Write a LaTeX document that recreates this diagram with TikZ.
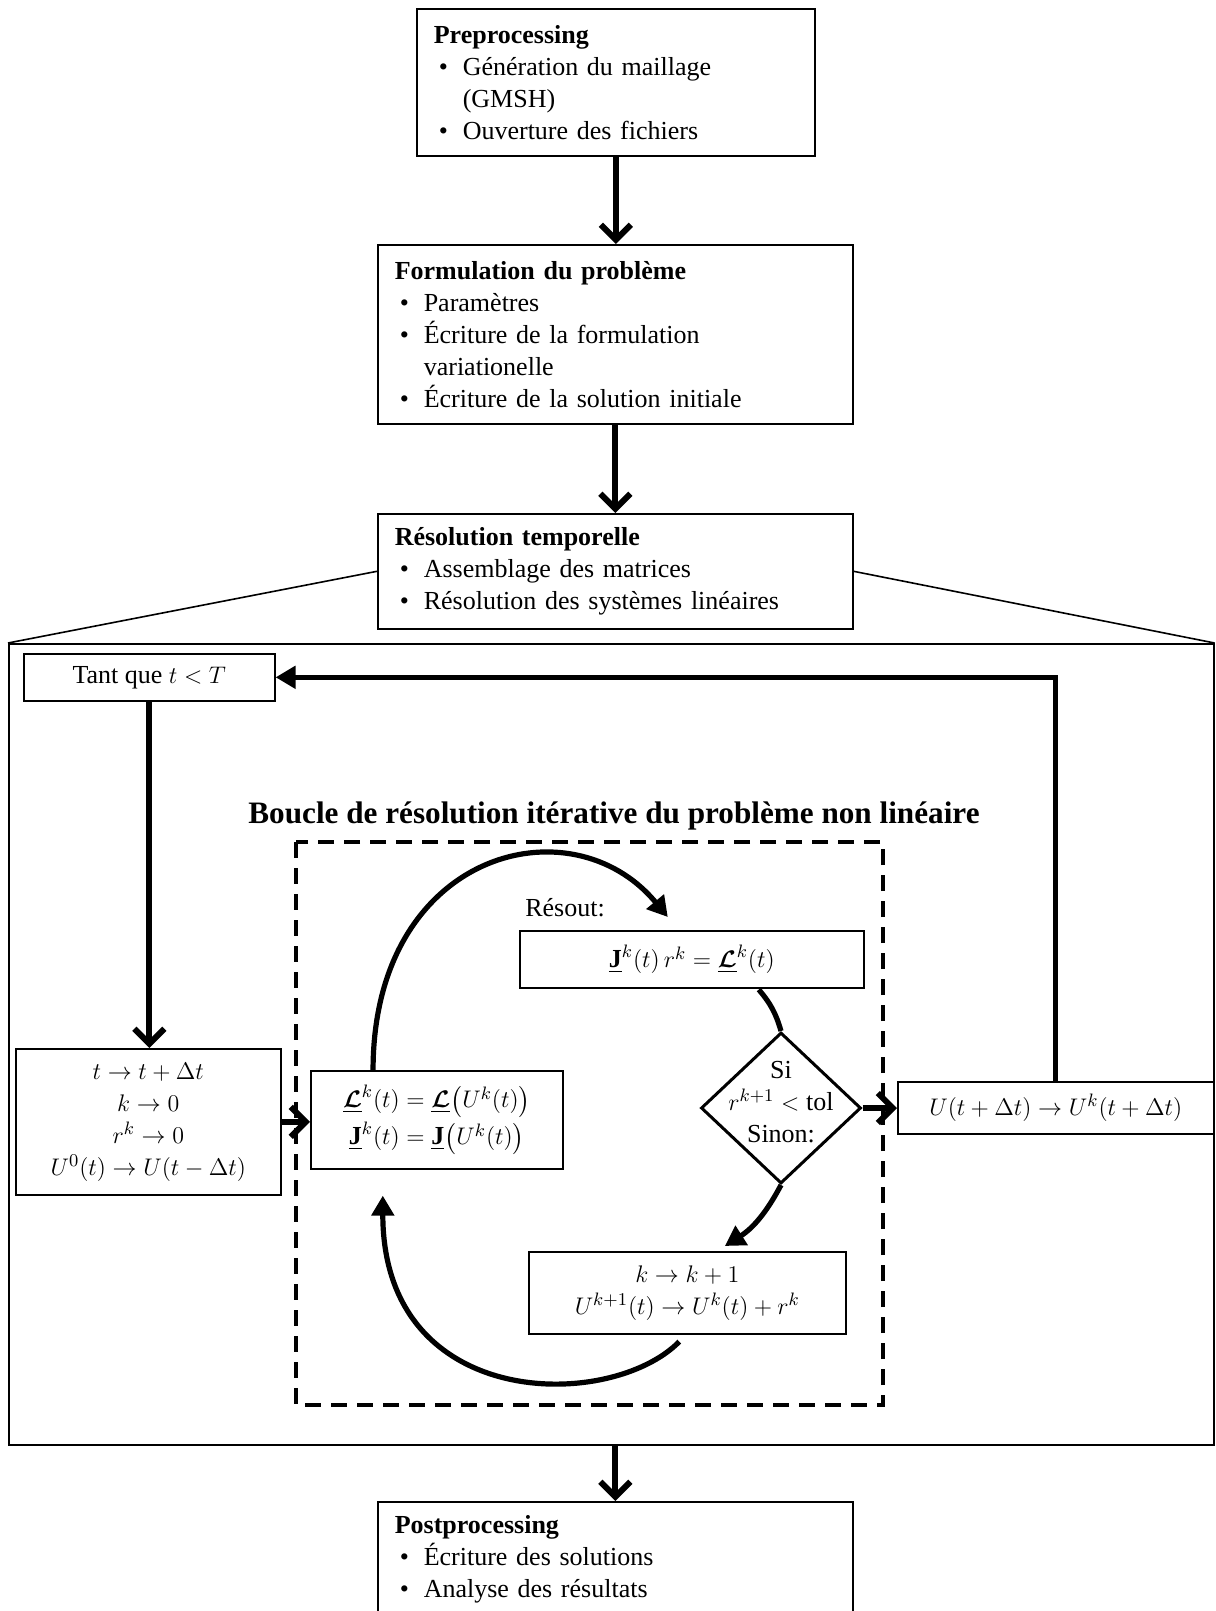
\documentclass[tikz,border=0pt]{standalone}
\usepackage{amsmath, amssymb}
\usepackage{fontspec}
\setmainfont{Liberation Serif}
\usepackage{tikz}
\usetikzlibrary{arrows.meta, shapes.geometric, calc}

\newcommand{\puce}{\hspace*{2.5pt}\makebox[12pt][l]{\textbullet}}
\newcommand{\retrait}{\hspace*{14.5pt}}
\newcommand{\Lb}{\underline{\boldsymbol{\mathcal{L}}}}
\newcommand{\Jb}{\underline{\mathbf{J}}}

\begin{document}
\begin{tikzpicture}[x=0.5pt, y=-0.5pt,
	texte/.style={font=\fontsize{13}{16}\selectfont},
	boite/.style={texte, draw, line width=0.8pt, anchor=north west,
		inner xsep=8.5pt, inner ysep=0pt},
	liste/.style={boite, align=left},
	centre/.style={boite, align=center},
	fleche/.style={line width=3pt, -{Straight Barb[length=7.5pt, width=15pt]}},
	retour/.style={line width=2.6pt, -{Triangle[length=10pt, width=11pt]}},
	lien/.style={line width=2.6pt}]
	\useasboundingbox (0,0) rectangle (1215,1611);
	% les etapes principales
	\node[liste, text width=182pt, minimum height=73.5pt] (pre) at (416,8)
		{\textbf{Preprocessing}\\
		\puce Génération du maillage\\
		\retrait (GMSH)\\
		\puce Ouverture des fichiers};
	\node[liste, text width=220.5pt, minimum height=89.5pt] (form) at (377,244)
		{\textbf{Formulation du problème}\\
		\puce Paramètres\\
		\puce Écriture de la formulation\\
		\retrait variationelle\\
		\puce Écriture de la solution initiale};
	\node[liste, text width=220.5pt, minimum height=57.5pt] (resol) at (377,513)
		{\textbf{Résolution temporelle}\\
		\puce Assemblage des matrices\\
		\puce Résolution des systèmes linéaires};
	\node[liste, text width=220.5pt, minimum height=57.5pt] (post) at (377,1501)
		{\textbf{Postprocessing}\\
		\puce Écriture des solutions\\
		\puce Analyse des résultats};
	% le cadre du zoom
	\node[draw, line width=0.8pt, anchor=north west, inner sep=0pt,
		minimum width=602.5pt, minimum height=400.5pt] (cadre) at (8,643) {};
	\draw[line width=0.8pt] (resol.west) -- (cadre.north west);
	\draw[line width=0.8pt] (resol.east) -- (cadre.north east);
	\draw[fleche] (pre.south) -- (pre.south |- form.north);
	\draw[fleche] (form.south) -- (resol.north);
	\draw[fleche] (cadre.south -| post.north) -- (post.north);
	% boucle en temps
	\node[centre, minimum width=125.5pt, minimum height=23.5pt] (tant) at (23,653)
		{Tant que $t<T$};
	\node[centre, minimum width=132.5pt, minimum height=73pt] (init) at (15,1048)
		{$t\to t+\Delta t$\\ $k\to 0$\\ $r^k\to 0$\\ $U^0(t)\to U(t-\Delta t)$};
	\node[centre, minimum width=158pt, minimum height=26pt] (maj) at (897,1081)
		{$U(t+\Delta t)\to U^k(t+\Delta t)$};
	% boucle non lineaire
	\node[font=\bfseries\fontsize{15.6}{18}\selectfont] (titre) at (614,816)
		{Boucle de résolution itérative du problème non linéaire};
	\draw[line width=2pt, dash pattern=on 8pt off 5pt] (296,842) rectangle (883,1405);
	\node[centre, minimum width=172pt, minimum height=28.5pt] (sys) at (519,930)
		{$\Jb^k(t)\,r^k=\Lb^k(t)$};
	\node[texte] (resout) at (565,908) {Résout:};
	\node[centre, minimum width=126pt, minimum height=49pt] (eval) at (310,1070)
		{$\Lb^k(t)=\Lb\bigl(U^k(t)\bigr)$\\[1pt] $\Jb^k(t)=\Jb\bigl(U^k(t)\bigr)$};
	\node[diamond, draw, line width=1.5pt, inner sep=0pt,
		minimum width=80pt, minimum height=75.5pt] (test) at (781,1108) {};
	\node[texte, align=center] (testtxt) at (781,1102)
		{Si\\ $r^{k+1}<\mathrm{tol}$\\ Sinon:};
	\node[centre, minimum width=158.5pt, minimum height=41pt] (incr) at (528,1251)
		{$k\to k+1$\\ $U^{k+1}(t)\to U^k(t)+r^k$};
	% les fleches
	\draw[fleche] (tant.south) -- (tant.south |- init.north);
	\draw[fleche] (init.east) -- (init.east -| eval.west);
	\draw[fleche] (test.east) -- (test.east -| maj.west);
	\draw[retour] (maj.north) |- (tant.east);
	\draw[retour] (eval.142) .. controls +(0,-218) and +(-97,-117) .. ($(sys.north)+(-24,-13)$);
	\draw[lien] ($(sys.south)+(67,1)$) to[bend left=12] (test.north);
	\draw[retour] (test.south) to[bend left=15] ($(incr.north)+(37.5,-5)$);
	\draw[retour] ($(incr.south)+(-8,7)$) .. controls +(-69,70) and +(0,216) .. ($(eval.south)+(-54,26)$);
\end{tikzpicture}
\end{document}
